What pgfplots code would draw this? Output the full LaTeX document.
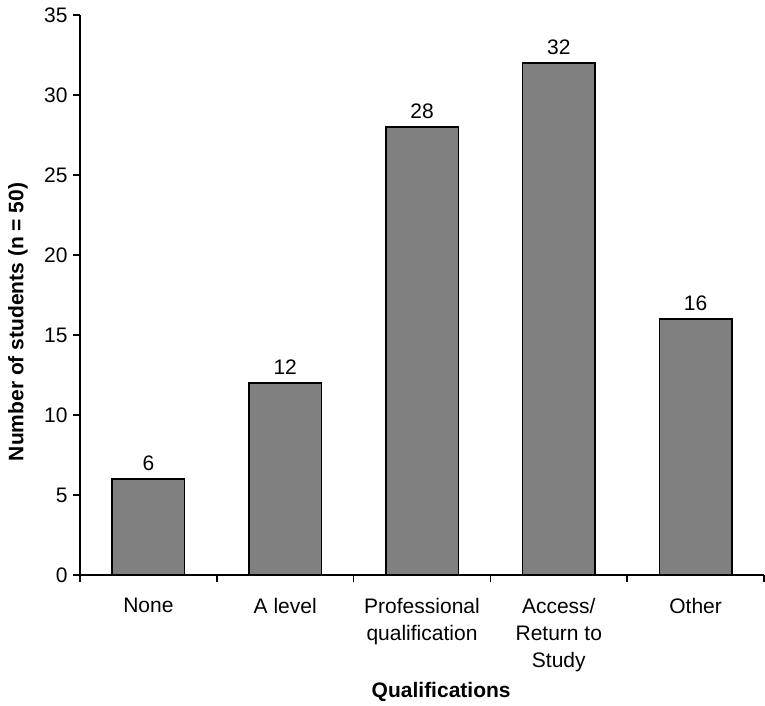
\documentclass[border=0pt]{standalone}
\usepackage{pgfplots}
\pgfplotsset{compat=1.18}
\usepackage{fontspec}
\setmainfont{Liberation Sans}
\begin{document}
\begin{tikzpicture}
\begin{axis}[
  name=ax,
  scale only axis,
  width=342bp, height=280bp,
  xmin=-0.5, xmax=4.5,
  ymin=0, ymax=35,
  axis lines*=left,
  axis line style={line width=1bp},
  tick align=outside,
  ytick={0,5,...,35},
  major tick length=3.5bp,
  minor tick length=3.5bp,
  every tick/.style={black, line width=0.8bp},
  xtick={0,1,2,3,4},
  xticklabels={None, A level, {Professional\\qualification}, {Access/\\Return to\\Study}, Other},
  minor xtick={-0.5,0.5,1.5,2.5,3.5,4.5},
  x tick style={draw=none},
  minor x tick style={draw=black, line width=0.8bp},
  xticklabel style={anchor=north, align=center, inner sep=0pt, yshift=-8bp, font={\fontsize{10.5bp}{13.5bp}\selectfont}},
  yticklabel style={anchor=east, inner sep=0pt, xshift=-2.5bp, font={\fontsize{10.5bp}{13.5bp}\selectfont}},
  /pgf/number format/assume math mode=true,
  ylabel={\bfseries Number of students (n = 50)},
  ylabel style={at={(axis description cs:-0.0906,0.452)}, anchor=center, font={\fontsize{10.5bp}{13.5bp}\selectfont}},
  xlabel={\bfseries Qualifications},
  xlabel style={at={(axis description cs:0.528,-0.209)}, anchor=center, font={\fontsize{10.5bp}{13.5bp}\selectfont}},
  ybar, bar width=0.53,
  nodes near coords,
  nodes near coords style={anchor=base, inner sep=0pt, yshift=4.5bp, font={\fontsize{10.5bp}{13.5bp}\selectfont}},
  clip=false,
]
\addplot[fill={rgb,255:red,128;green,128;blue,128}, draw=black, line width=0.75bp]
  coordinates {(0,6) (1,12) (2,28) (3,32) (4,16)};
\end{axis}
\pgfresetboundingbox
\path[use as bounding box] ([xshift=-40bp,yshift=-65bp]ax.south west) rectangle ([xshift=0.5bp,yshift=7.5bp]ax.north east);
\end{tikzpicture}
\end{document}
